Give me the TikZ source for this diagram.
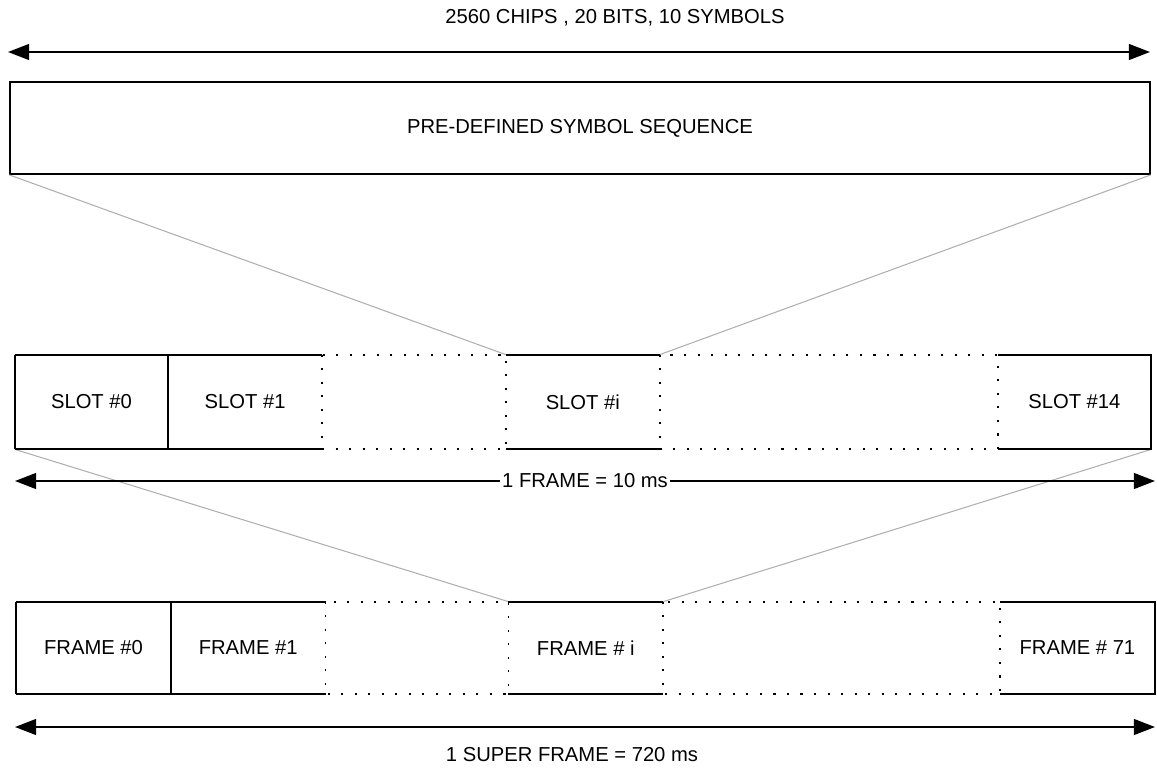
\documentclass[tikz,border=0pt]{standalone}
\usepackage{fontspec}
\setmainfont{Liberation Sans}
\usepackage{tikz}
\usetikzlibrary{positioning,arrows.meta}
\definecolor{ZoomGrey}{RGB}{175,175,175}

\begin{document}
\begin{tikzpicture}[
x=0.02cm,y=-0.02cm,
node distance=0pt,
cell/.style={rectangle,inner sep=0pt,minimum width=3.06cm,minimum height=1.88cm,font=\fontsize{11.5}{14}\selectfont},
fcell/.style={cell,minimum width=3.08cm,minimum height=1.84cm},
lbl/.style={inner sep=1.5pt,font=\fontsize{11.5}{14}\selectfont},
edge/.style={line width=1pt},
gap/.style={line width=1.1pt,dash pattern=on 1.2pt off 6.5pt},
dim/.style={{Triangle[length=12pt,width=9pt]}-{Triangle[length=12pt,width=9pt]},line width=1pt},
zoom/.style={ZoomGrey,line width=0.6pt}
]
\useasboundingbox (0,0) rectangle (1157,768);
\node[lbl] (chips) at (615,18) {2560 CHIPS , 20 BITS, 10 SYMBOLS};
\coordinate (cl) at (8,52);
\coordinate (cr) at (1150,52);
\draw[dim] (cl) -- (cr);
\node[draw,edge,cell,minimum width=22.8cm,minimum height=1.84cm] (seq) at (580,128) {PRE-DEFINED SYMBOL SEQUENCE};
\node[cell] (s0) at (91.5,402) {SLOT \#0};
\node[cell,right=of s0] (s1) {SLOT \#1};
\node[cell,right=3.68cm of s1] (si) {SLOT \#i};
\node[cell,right=6.76cm of si] (s14) {SLOT \#14};
\node[fcell] (f0) at (93.5,648) {FRAME \#0};
\node[fcell,right=of f0] (f1) {FRAME \#1};
\node[fcell,right=3.66cm of f1] (fi) {FRAME \# i};
\node[fcell,right=6.74cm of fi] (f71) {FRAME \# 71};
\draw[zoom] (seq.south west) -- (si.north west);
\draw[zoom] (seq.south east) -- (si.north east);
\draw[zoom] (s0.south west) -- (fi.north west);
\draw[zoom] (s14.south east) -- (fi.north east);
\draw[edge] (s0.north west) -- (s1.north east) (s0.south west) -- (s1.south east);
\draw[edge] (s0.north west) -- (s0.south west) (s0.north east) -- (s0.south east);
\draw[edge] (si.north west) -- (si.north east) (si.south west) -- (si.south east);
\draw[edge] (s14.north west) -- (s14.north east) -- (s14.south east) -- (s14.south west);
\draw[gap] (s1.north east) rectangle (si.south west);
\draw[gap] (si.north east) rectangle (s14.south west);
\coordinate (fl) at (15,481);
\coordinate (fr) at (1155,481);
\draw[dim] (fl) -- node[lbl,fill=white] (framelbl) {1 FRAME = 10 ms} (fr);
\draw[edge] (f0.north west) -- (f1.north east) (f0.south west) -- (f1.south east);
\draw[edge] (f0.north west) -- (f0.south west) (f0.north east) -- (f0.south east);
\draw[edge] (fi.north west) -- (fi.north east) (fi.south west) -- (fi.south east);
\draw[edge] (f71.north west) -- (f71.north east) -- (f71.south east) -- (f71.south west);
\draw[gap] (f1.north east) rectangle (fi.south west);
\draw[gap] (fi.north east) rectangle (f71.south west);
\coordinate (sl) at (15,727);
\coordinate (sr) at (1155,727);
\draw[dim] (sl) -- (sr);
\node[lbl] (superlbl) at (572,755) {1 SUPER FRAME = 720 ms};
\end{tikzpicture}
\end{document}
